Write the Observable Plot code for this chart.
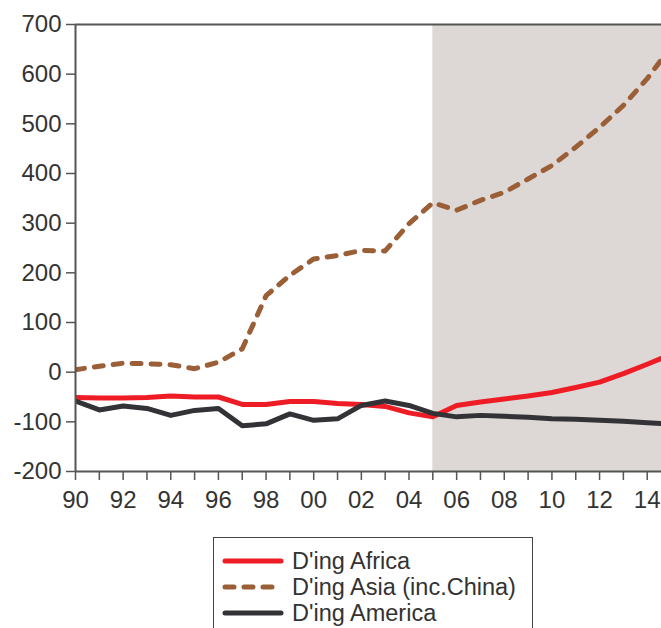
<!DOCTYPE html>
<html>
<head>
<meta charset="utf-8">
<script src="https://cdn.jsdelivr.net/npm/d3@7"></script>
<script src="https://cdn.jsdelivr.net/npm/@observablehq/plot@0.6"></script>
<style>
  html, body { margin: 0; padding: 0; background: #fff; overflow: hidden; }
  body { width: 661px; height: 628px; position: relative; font-family: "Liberation Sans", Arial, Helvetica, sans-serif; }
  #legend { position: absolute; left: 213px; top: 537px; width: 320px; height: 120px; border: 1px solid #444; box-sizing: border-box; background: #fff; }
  .item { position: absolute; left: 8px; height: 26px; display: flex; align-items: center; font-size: 23.5px; color: #333; white-space: nowrap; }
  .item svg { margin-right: 8px; }
</style>
</head>
<body>
<div id="chart"></div>
<div id="legend"></div>
<script>
const years = [1990,1991,1992,1993,1994,1995,1996,1997,1998,1999,2000,2001,2002,2003,2004,2005,2006,2007,2008,2009,2010,2011,2012,2013,2014,2015];
const africa = [-51,-52,-52,-51,-48,-50,-50,-65,-65,-59,-59,-63,-65,-69,-82,-90,-67,-60,-54,-48,-41,-31,-20,-3,16,36];
const asia = [5,12,18,17,15,7,20,47,154,195,228,235,245,244,299,341,326,346,362,389,416,453,493,537,591,655];
const america = [-58,-76,-68,-73,-87,-77,-73,-108,-104,-84,-97,-94,-67,-58,-67,-83,-90,-87,-89,-91,-94,-95,-97,-99,-102,-104];
const seriesNames = ["D'ing Africa", "D'ing Asia (inc.China)", "D'ing America"];
const seriesColors = ["#ee1c25", "#9b5f37", "#333236"];
const forecastStart = 2005;
const xDomain = [1990, 2014.6];
const yTicks = [-200,-100,0,100,200,300,400,500,600,700];
const xTicks = d3.range(1990, 2015);

const rows = (vals, name) => years.map((y, i) => ({year: y, value: vals[i], series: name}));
const dAfrica = rows(africa, seriesNames[0]);
const dAsia = rows(asia, seriesNames[1]);
const dAmerica = rows(america, seriesNames[2]);
const shade = [{x1: forecastStart, x2: 2015, y1: -200, y2: 700}];
const yFmt = d => String(d);
const xFmt = d => d % 2 === 0 ? String(d % 100).padStart(2, "0") : "";

const chart = Plot.plot({
  width: 661,
  height: 520,
  marginLeft: 75,
  marginRight: 0,
  marginTop: 24,
  marginBottom: 49,
  style: {fontFamily: "'Liberation Sans', Arial, sans-serif", fontSize: "24px", color: "#333", background: "#fff"},
  x: {domain: xDomain, label: null},
  y: {domain: [-200, 700], label: null},
  marks: [
    Plot.rect(shade, {x1: "x1", x2: "x2", y1: "y1", y2: "y2", fill: "#ddd8d5", clip: true}),
    Plot.line(dAfrica, {x: "year", y: "value", stroke: seriesColors[0], strokeWidth: 5, clip: true}),
    Plot.line(dAsia, {x: "year", y: "value", stroke: seriesColors[1], strokeWidth: 5, strokeDasharray: "9,10", strokeLinecap: "round", clip: true}),
    Plot.line(dAmerica, {x: "year", y: "value", stroke: seriesColors[2], strokeWidth: 5, clip: true}),
    Plot.axisY({ticks: yTicks, tickSize: 9, tickPadding: 5, stroke: "#555", strokeWidth: 1.5, fill: "#333", tickFormat: yFmt}),
    Plot.axisX({ticks: xTicks, tickSize: 9, tickPadding: 10, stroke: "#555", strokeWidth: 1.5, fill: "#333", tickFormat: xFmt}),
    Plot.ruleY([700], {stroke: "#555", strokeWidth: 2}),
    Plot.ruleY([-200], {stroke: "#555", strokeWidth: 2}),
    Plot.ruleX([1990], {stroke: "#555", strokeWidth: 2})
  ]
});
document.getElementById("chart").appendChild(chart);

const legend = document.getElementById("legend");
const tops = [10, 36, 62];
seriesNames.forEach((name, i) => {
  const div = document.createElement("div");
  div.className = "item";
  div.style.top = tops[i] + "px";
  const dash = i === 1 ? 'stroke-dasharray="9,10"' : "";
  div.innerHTML = `<svg width="62" height="10"><line x1="3" y1="5" x2="59" y2="5" stroke="${seriesColors[i]}" stroke-width="5" stroke-linecap="round" ${dash}/></svg><span>${name}</span>`;
  legend.appendChild(div);
});
</script>
</body>
</html>
